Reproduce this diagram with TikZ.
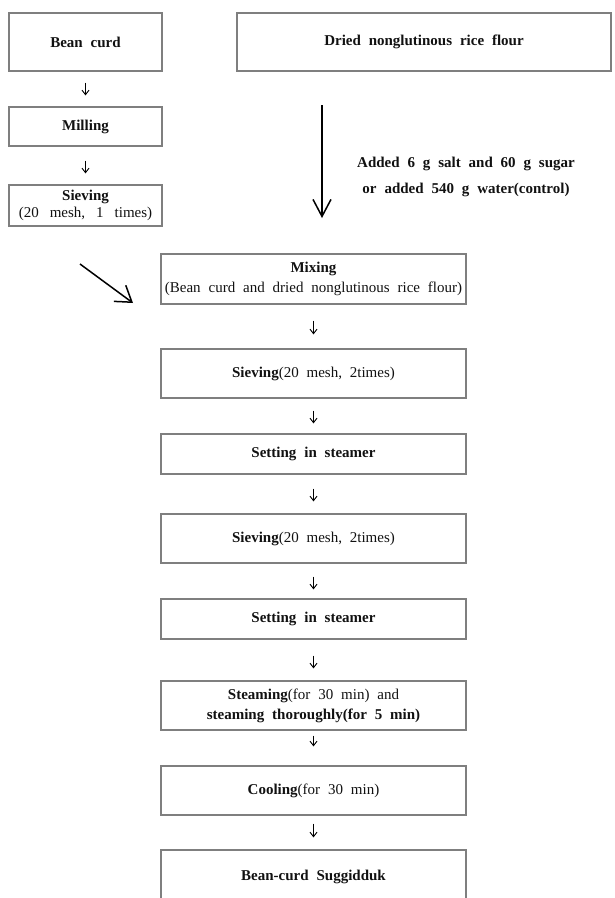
\documentclass[tikz,border=0pt]{standalone}
\usepackage{fontspec}
\setmainfont{Liberation Serif}[WordSpace=2.1]
\usepackage{xcolor}
\usepackage{tikz}
\usetikzlibrary{positioning,arrows.meta,calc}
\definecolor{BoxGray}{HTML}{7F7F7F}
\definecolor{InkDark}{HTML}{111111}

\begin{document}
\begin{tikzpicture}[x=1pt,y=-1pt,
    every node/.style={font=\fontsize{15}{20}\selectfont, text=InkDark},
    stepbox/.style={draw=BoxGray, line width=1.2pt, inner sep=0pt, align=center},
    tinyarr/.style 2 args={-{Straight Barb[length=4.5pt,width=7pt]}, line width=0.9pt,
      shorten <=#1, shorten >=#2},
    bigarr/.style={-{Straight Barb[length=17pt,width=18pt]}, line width=1.5pt}]
  \useasboundingbox (0,0) rectangle (615,898);

  % left column: bean curd
  \node[stepbox, minimum width=153pt, minimum height=58pt] (bean) at (85.5,42) {\textbf{Bean curd}};
  \node[stepbox, minimum width=153pt, minimum height=39pt] (mill) at (85.5,126.5) {\textbf{Milling}};
  \node[stepbox, minimum width=153pt, minimum height=41pt, font=\fontsize{15}{17}\selectfont]
    (sieve) at (85.5,205.5) {\textbf{Sieving}\\{\spaceskip=11pt plus 2pt(20 mesh, 1 times)}};
  \draw[tinyarr={11pt}{11pt}] (bean) -- (mill);
  \draw[tinyarr={14pt}{11pt}] (mill) -- (sieve);

  % right column: rice flour
  \node[stepbox, minimum width=374pt, minimum height=58pt] (flour) at (424,42)
    {\textbf{Dried nonglutinous rice flour}};
  \coordinate (addtop) at (322,105);
  \coordinate (addbot) at (322,218);
  \draw[bigarr] (addtop) -- (addbot);
  \node[font=\fontsize{15}{26}\selectfont\bfseries, align=center] (addnote) at (466,177)
    {Added 6 g salt and 60 g sugar\\or added 540 g water(control)};

  % curd joins the mixing step
  \coordinate (curdout) at (80,264);
  \coordinate (mixin) at (133,303);
  \draw[-{Straight Barb[length=15pt,width=20pt]}, line width=1.5pt] (curdout) -- (mixin);

  % main process column
  \foreach \bname/\btext/\by/\bh in {
    mix/{\textbf{Mixing}\\(Bean curd and dried nonglutinous rice flour)}/279/50,
    sieveA/{\textbf{Sieving}(20 mesh, 2times)}/373.5/49,
    setA/{\textbf{Setting in steamer}}/454/40,
    sieveB/{\textbf{Sieving}(20 mesh, 2times)}/538.5/49,
    setB/{\textbf{Setting in steamer}}/619/40,
    steam/{\textbf{Steaming}(for 30 min) and\\\textbf{steaming thoroughly(for 5 min)}}/705.5/49,
    cool/{\textbf{Cooling}(for 30 min)}/790.5/49,
    final/{\textbf{Bean-curd Suggidduk}}/877/54%
  }{
    \node[stepbox, minimum width=305pt, minimum height=\bh pt] (\bname) at (313.5,\by) {\btext};
  }

  \draw[tinyarr={16pt}{14pt}] (mix) -- (sieveA);
  \draw[tinyarr={12pt}{10pt}] (sieveA) -- (setA);
  \draw[tinyarr={14pt}{12pt}] (setA) -- (sieveB);
  \draw[tinyarr={13pt}{9pt}] (sieveB) -- (setB);
  \draw[tinyarr={16pt}{12pt}] (setB) -- (steam);
  \draw[tinyarr={5pt}{19pt}] (steam) -- (cool);
  \draw[tinyarr={8pt}{12pt}] (cool) -- (final);
\end{tikzpicture}
\end{document}
